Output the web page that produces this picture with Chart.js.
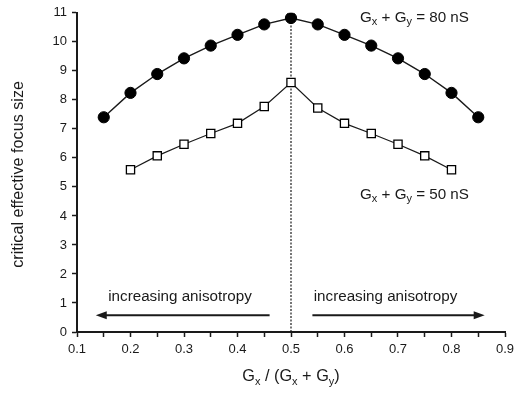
<!DOCTYPE html>
<html>
<head>
<meta charset="utf-8">
<style>
    body { margin: 0; background: #fff; }
    canvas { display: block; }
</style>
</head>
<body>
<canvas id="myChart" width="520" height="394"></canvas>
<script src="https://cdn.jsdelivr.net/npm/chart.js@4.4.2/dist/chart.umd.min.js"></script>
<script>
// data
const ratio = [0.15, 0.2, 0.25, 0.3, 0.35, 0.4, 0.45, 0.5, 0.55, 0.6, 0.65, 0.7, 0.75, 0.8, 0.85];
const focus80 = [7.40, 8.24, 8.89, 9.43, 9.87, 10.24, 10.60, 10.82, 10.60, 10.24, 9.87, 9.43, 8.89, 8.24, 7.40];
const ratio50 = [0.2, 0.25, 0.3, 0.35, 0.4, 0.45, 0.5, 0.55, 0.6, 0.65, 0.7, 0.75, 0.8];
const focus50 = [5.59, 6.07, 6.47, 6.84, 7.19, 7.77, 8.60, 7.72, 7.19, 6.84, 6.47, 6.07, 5.59];
const xTicks = [0.1, 0.2, 0.3, 0.4, 0.5, 0.6, 0.7, 0.8, 0.9];

const FONT = "'Liberation Sans', Arial, sans-serif";
const INK = '#1a1a1a';

// draw text with subscript pieces, e.g. [['G'], ['x', true], [' + G'], ...]
function drawSub(ctx, parts, x, y, size, align) {
    const subSize = Math.round(size * 0.7);
    let total = 0;
    parts.forEach(p => {
        ctx.font = (p[1] ? subSize : size) + 'px ' + FONT;
        total += ctx.measureText(p[0]).width;
    });
    let cx = align === 'center' ? x - total / 2 : x;
    ctx.textBaseline = 'middle';
    ctx.textAlign = 'left';
    parts.forEach(p => {
        ctx.font = (p[1] ? subSize : size) + 'px ' + FONT;
        ctx.fillText(p[0], cx, p[1] ? y + size * 0.3 : y);
        cx += ctx.measureText(p[0]).width;
    });
}

function arrow(ctx, x0, x1, y) {
    const dir = Math.sign(x1 - x0);
    ctx.beginPath();
    ctx.lineWidth = 2;
    ctx.moveTo(x0, y);
    ctx.lineTo(x1 - dir * 8, y);
    ctx.stroke();
    ctx.beginPath();
    ctx.moveTo(x1, y);
    ctx.lineTo(x1 - dir * 11, y - 4);
    ctx.lineTo(x1 - dir * 11, y + 4);
    ctx.closePath();
    ctx.fill();
}

const annotations = {
    id: 'annotations',
    beforeDatasetsDraw(chart) {
        const { ctx, scales: { x, y } } = chart;
        // dotted divider at 0.5
        ctx.save();
        ctx.strokeStyle = INK;
        ctx.lineWidth = 1.2;
        ctx.setLineDash([2, 1.5]);
        ctx.beginPath();
        ctx.moveTo(x.getPixelForValue(0.5), y.getPixelForValue(0));
        ctx.lineTo(x.getPixelForValue(0.5), y.getPixelForValue(10.82));
        ctx.stroke();
        ctx.restore();
    },
    afterDraw(chart) {
        const { ctx, scales: { x, y } } = chart;
        ctx.save();
        ctx.fillStyle = INK;
        ctx.strokeStyle = INK;

        const ay = y.getPixelForValue(0.58);
        arrow(ctx, x.getPixelForValue(0.46), x.getPixelForValue(0.135), ay);
        arrow(ctx, x.getPixelForValue(0.54), x.getPixelForValue(0.862), ay);

        ctx.font = '15.2px ' + FONT;
        ctx.textAlign = 'center';
        ctx.textBaseline = 'middle';
        const ty = y.getPixelForValue(1.2);
        ctx.fillText('increasing anisotropy', x.getPixelForValue(0.2925), ty);
        ctx.fillText('increasing anisotropy', x.getPixelForValue(0.6766), ty);

        drawSub(ctx, [['G'], ['x', true], [' + G'], ['y', true], [' = 80 nS']],
            x.getPixelForValue(0.629), y.getPixelForValue(10.83), 15.2, 'left');
        drawSub(ctx, [['G'], ['x', true], [' + G'], ['y', true], [' = 50 nS']],
            x.getPixelForValue(0.629), y.getPixelForValue(4.73), 15.2, 'left');

        // axis titles
        drawSub(ctx, [['G'], ['x', true], [' / (G'], ['x', true], [' + G'], ['y', true], [')']],
            x.getPixelForValue(0.5), 377, 16.3, 'center');

        ctx.translate(19, (y.top + y.bottom) / 2 + 2);
        ctx.rotate(-Math.PI / 2);
        ctx.font = '16.2px ' + FONT;
        ctx.textAlign = 'center';
        ctx.textBaseline = 'middle';
        ctx.fillText('critical effective focus size', 0, 0);
        ctx.restore();
    }
};

const data = {
    datasets: [
        {
            label: '80 nS',
            data: ratio.map((v, i) => ({ x: v, y: focus80[i] })),
            showLine: true,
            borderColor: INK,
            borderWidth: 1.4,
            pointStyle: 'circle',
            pointRadius: 5.6,
            pointBackgroundColor: '#000',
            pointBorderColor: '#000',
            pointBorderWidth: 1
        },
        {
            label: '50 nS',
            data: ratio50.map((v, i) => ({ x: v, y: focus50[i] })),
            showLine: true,
            borderColor: INK,
            borderWidth: 1.2,
            pointStyle: 'rect',
            pointRadius: 5.8,
            pointBackgroundColor: '#fff',
            pointBorderColor: '#000',
            pointBorderWidth: 1.3
        }
    ]
};

const config = {
    type: 'scatter',
    data,
    plugins: [annotations],
    options: {
        responsive: false,
        animation: false,
        layout: { padding: { top: 11, right: 15, left: 0, bottom: 0 } },
        plugins: {
            legend: { display: false },
            tooltip: { enabled: false }
        },
        scales: {
            x: {
                type: 'linear',
                min: 0.1,
                max: 0.9,
                afterFit: (s) => { s.height = 62; },
                afterBuildTicks: (s) => {
                    const t = [];
                    xTicks.forEach((v, i) => {
                        t.push({ value: v });
                        if (i < xTicks.length - 1) t.push({ value: v + 0.05, minor: true });
                    });
                    s.ticks = t;
                },
                ticks: {
                    color: INK,
                    font: { family: FONT, size: 13 },
                    padding: 5,
                    maxRotation: 0,
                    autoSkip: false,
                    callback: (v) => {
                        const r = Math.round(v * 100);
                        return r % 10 === 0 ? (r / 100).toFixed(1) : '';
                    }
                },
                grid: {
                    drawOnChartArea: false,
                    drawTicks: true,
                    tickLength: 5,
                    tickColor: INK,
                    tickWidth: 1.5
                },
                border: { display: true, color: INK, width: 2 }
            },
            y: {
                min: 0,
                max: 11,
                afterFit: (s) => { s.width = 77; },
                ticks: {
                    stepSize: 1,
                    color: INK,
                    font: { family: FONT, size: 13 },
                    padding: 5
                },
                grid: {
                    drawOnChartArea: false,
                    drawTicks: true,
                    tickLength: 5,
                    tickColor: INK,
                    tickWidth: 1.5
                },
                border: { display: true, color: INK, width: 2 }
            }
        }
    }
};

let myChart = new Chart(document.getElementById('myChart'), config);
</script>
</body>
</html>
